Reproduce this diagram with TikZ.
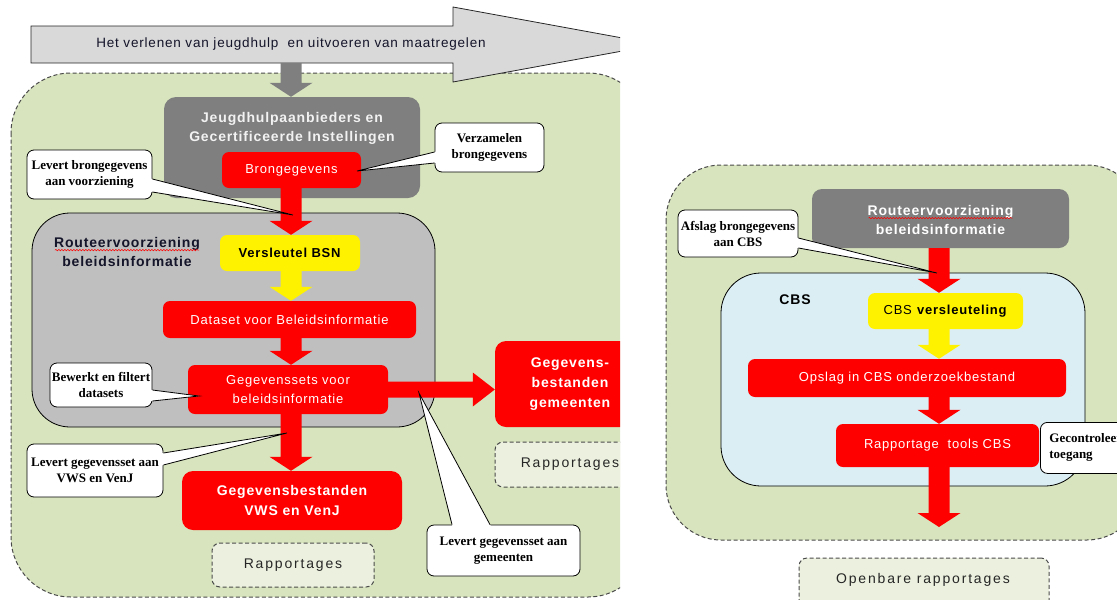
\documentclass[tikz,border=0pt]{standalone}
\usepackage{fontspec}
\setmainfont{Liberation Sans}[LetterSpace=6]
\newfontfamily\serifb{Liberation Serif}
\newfontfamily\wide{Liberation Sans}[LetterSpace=13]
\usetikzlibrary{calc,decorations.pathmorphing}
\definecolor{greenbg}{HTML}{D7E4BD}
\definecolor{arrowgray}{HTML}{D9D9D9}
\definecolor{darkgray}{HTML}{7F7F7F}
\definecolor{midgray}{HTML}{BFBFBF}
\definecolor{cbsblue}{HTML}{DBEEF4}
\definecolor{rapfill}{HTML}{EBF1DE}
\definecolor{dashgray}{HTML}{4A4A4A}
\definecolor{txtdark}{HTML}{14142A}
\definecolor{lighttxt}{HTML}{F2F2F2}
\newcommand\varrow[3]{\fill[#1] let \p1=(#2), \p2=(#3) in
  (\x1-10.5pt,\y1) -- (\x1-10.5pt,\y2+14pt) -- (\x1-21.5pt,\y2+14pt) -- (\x1,\y2)
  -- (\x1+21.5pt,\y2+14pt) -- (\x1+10.5pt,\y2+14pt) -- (\x1+10.5pt,\y1) -- cycle;}
\newcommand\harrow[3]{\fill[#1] let \p1=(#2), \p2=(#3) in
  (\x1,\y1+8pt) -- (\x2-22pt,\y1+8pt) -- (\x2-22pt,\y1+17pt) -- (\x2,\y1)
  -- (\x2-22pt,\y1-17pt) -- (\x2-22pt,\y1-8pt) -- (\x1,\y1-8pt) -- cycle;}
\newcommand\pointer[3]{%
  \fill[white] ($(#1)!-2pt!(#3)$) -- (#3) -- ($(#2)!-2pt!(#3)$) -- cycle;
  \draw[callline] (#1) -- (#3) -- (#2);}
\begin{document}
\begin{tikzpicture}[x=1pt,y=-1pt,
  region/.style={fill=greenbg, draw=dashgray, line width=1pt, dash pattern=on 4pt off 2.5pt},
  box/.style={inner sep=0pt, align=center},
  redbox/.style={box, fill=red, rounded corners=7pt, text=white, font=\fontsize{13}{19}\selectfont},
  bigred/.style={box, fill=red, rounded corners=11pt, text=white, font=\bfseries\fontsize{14}{20}\selectfont},
  yellowbox/.style={box, fill=yellow, rounded corners=7pt, text=black, font=\fontsize{13}{16}\selectfont},
  rapbox/.style={box, fill=rapfill, draw=dashgray, line width=1pt, dash pattern=on 4pt off 2.5pt, rounded corners=8pt, text=black!85, font=\wide\fontsize{14}{16}\selectfont},
  callout/.style={box, fill=white, draw=black, line width=0.8pt, rounded corners=7pt, text=black, font=\serifb\bfseries\fontsize{13}{16}\selectfont},
  callline/.style={draw=black, line width=0.8pt, line join=miter},
  wavy/.style={red, line width=0.5pt, decorate, decoration={snake, amplitude=0.7pt, segment length=3pt}},
  boldlabel/.style={inner sep=0pt, align=center, font=\bfseries\fontsize{14}{19}\selectfont}
]
\clip (0,0) rectangle (1117,600);
%================ LEFT PANEL ================
\begin{scope}
\clip (0,0) rectangle (620,600);
\draw[region, rounded corners=60pt] (11,73) rectangle (648,597);
% big process arrow
\draw[fill=arrowgray, draw=black!85, line width=0.8pt, line join=miter]
  (31,26) -- (453,26) -- (453,7) -- (658,44.5) -- (453,82) -- (453,63) -- (31,63) -- cycle;
\node[inner sep=0pt, font=\fontsize{13.5}{15}\selectfont, text=txtdark] (bigtxt) at (291,44.5)
  {Het verlenen van jeugdhulp\ \ en uitvoeren van maatregelen};
\coordinate (bigbot) at (291,63);
% providers box
\node[box, fill=darkgray, rounded corners=12pt, minimum width=256pt, minimum height=101pt] (jeugd) at (292,147.5) {};
\varrow{darkgray}{bigbot}{bigbot |- jeugd.north}
\node[boldlabel, text=lighttxt] (jeugdtxt) at (292,128.5) {Jeugdhulpaanbieders en\\Gecertificeerde Instellingen};
\node[redbox, minimum width=139pt, minimum height=36pt] (bron) at (291.5,170) {Brongegevens};
% router box
\node[box, fill=midgray, draw=black, line width=0.8pt, rounded corners=38pt, minimum width=403pt, minimum height=214pt] (routeer) at (233.5,320) {};
\node[boldlabel, text=txtdark] (routeertxt) at (127,251.5) {Routeervoorziening\\beleidsinformatie};
\draw[wavy] ($(routeertxt.north west)+(1,13.5)$) -- ($(routeertxt.north east)+(-1,13.5)$);
\node[yellowbox, minimum width=140pt, minimum height=36pt] (bsn) at (290,253) {\textbf{Versleutel BSN}};
\node[redbox, minimum width=253pt, minimum height=37pt] (dataset) at (289.5,319.5) {Dataset voor Beleidsinformatie};
\node[redbox, minimum width=200pt, minimum height=49pt] (gs) at (288,389.5) {Gegevenssets voor\\beleidsinformatie};
\node[bigred, minimum width=150pt, minimum height=86pt] (gem) at (570,384) {Gegevens-\\bestanden\\gemeenten};
\node[rapbox, minimum width=150pt, minimum height=45pt] (rap1) at (570,464.5) {Rapportages};
\node[bigred, minimum width=220pt, minimum height=59pt] (vws) at (292,500.5) {Gegevensbestanden\\VWS en VenJ};
\node[rapbox, minimum width=162pt, minimum height=44pt] (rap2) at (293,565) {Rapportages};
% flow arrows
\coordinate (axL) at (291,0);
\varrow{red}{bron.south -| axL}{bsn.north -| axL}
\varrow{yellow}{bsn.south -| axL}{dataset.north -| axL}
\varrow{red}{dataset.south -| axL}{gs.north -| axL}
\varrow{red}{gs.south -| axL}{vws.north -| axL}
\harrow{red}{gs.east}{gs.east -| gem.west}
% callouts
\node[callout, minimum width=125pt, minimum height=49pt] (c1) at (89.5,174.5) {Levert brongegevens\\aan voorziening};
\coordinate (c1a) at ($(c1.east)+(0,4.5)$);
\coordinate (c1b) at ($(c1.east)+(0,17.5)$);
\coordinate (t1) at (293,215);
\pointer{c1a}{c1b}{t1}
\node[callout, minimum width=109pt, minimum height=49pt] (c2) at (489.5,147.5) {Verzamelen\\brongegevens};
\coordinate (c2a) at ($(c2.west)+(0,4.5)$);
\coordinate (c2b) at ($(c2.west)+(0,15.5)$);
\coordinate (t2) at (357,171);
\pointer{c2a}{c2b}{t2}
\node[callout, minimum width=102pt, minimum height=44pt] (c3) at (101,385) {Bewerkt en filtert\\datasets};
\coordinate (c3a) at ($(c3.east)+(0,5)$);
\coordinate (c3b) at ($(c3.east)+(0,16)$);
\coordinate (t3) at (199,396);
\pointer{c3a}{c3b}{t3}
\node[callout, minimum width=136pt, minimum height=53pt] (c4) at (95,470.5) {Levert gegevensset aan\\VWS en VenJ};
\coordinate (c4a) at ($(c4.east)+(0,-17.5)$);
\coordinate (c4b) at ($(c4.east)+(0,-5.5)$);
\coordinate (t4) at (287,433);
\pointer{c4a}{c4b}{t4}
\node[callout, minimum width=153pt, minimum height=51pt] (c5) at (503.5,550.5) {Levert gegevensset aan\\gemeenten};
\coordinate (c5a) at ($(c5.north)+(-51.5,0)$);
\coordinate (c5b) at ($(c5.north)+(-13.5,0)$);
\coordinate (t5) at (419,393);
\pointer{c5a}{c5b}{t5}
\end{scope}
%================ RIGHT PANEL ================
\draw[region, rounded corners=55pt] (666,165) rectangle (1142,540);
\node[box, fill=darkgray, rounded corners=10pt, minimum width=257pt, minimum height=59pt] (routeer2) at (940.5,218.5) {};
\node[boldlabel, text=white] (routeer2txt) at (940.5,219.5) {Routeervoorziening\\beleidsinformatie};
\draw[wavy] ($(routeer2txt.north west)+(1,13.5)$) -- ($(routeer2txt.north east)+(-1,13.5)$);
\node[box, fill=cbsblue, draw=black, line width=0.8pt, rounded corners=40pt, minimum width=364pt, minimum height=213pt] (cbs) at (903,379.5) {};
\node[inner sep=0pt, font=\bfseries\fontsize{14}{16}\selectfont, text=black] (cbslabel) at (795,300) {CBS};
\node[yellowbox, minimum width=155pt, minimum height=36pt] (cbsv) at (945.5,311) {CBS \textbf{versleuteling}};
\node[redbox, minimum width=318pt, minimum height=38pt] (opslag) at (907,378) {Opslag in CBS onderzoekbestand};
\node[redbox, minimum width=203pt, minimum height=43pt] (rtools) at (937.5,445.5) {Rapportage\ \ tools CBS};
\coordinate (axR) at (939,0);
\coordinate (cbsend) at (939,527);
\varrow{red}{routeer2.south -| axR}{cbsv.north -| axR}
\varrow{yellow}{cbsv.south -| axR}{opslag.north -| axR}
\varrow{red}{opslag.south -| axR}{rtools.north -| axR}
\varrow{red}{rtools.south -| axR}{cbsend}
\node[callout, minimum width=120pt, minimum height=47pt] (c6) at (738,233.5) {Afslag brongegevens\\aan CBS};
\coordinate (c6a) at ($(c6.east)+(0,4.5)$);
\coordinate (c6b) at ($(c6.east)+(0,14.5)$);
\coordinate (t6) at (937,273);
\pointer{c6a}{c6b}{t6}
\node[callout, anchor=north west, minimum height=51pt, text width=100pt, align=left, inner xsep=9pt] (c7) at (1040,422) {Gecontroleerde\\toegang};
\node[rapbox, minimum width=250pt, minimum height=64pt] (openbaar) at (924,590) {};
\node[inner sep=0pt, text=black!85, font=\wide\fontsize{14}{16}\selectfont] (openbaartxt) at (923,580) {Openbare rapportages};
\end{tikzpicture}
\end{document}
